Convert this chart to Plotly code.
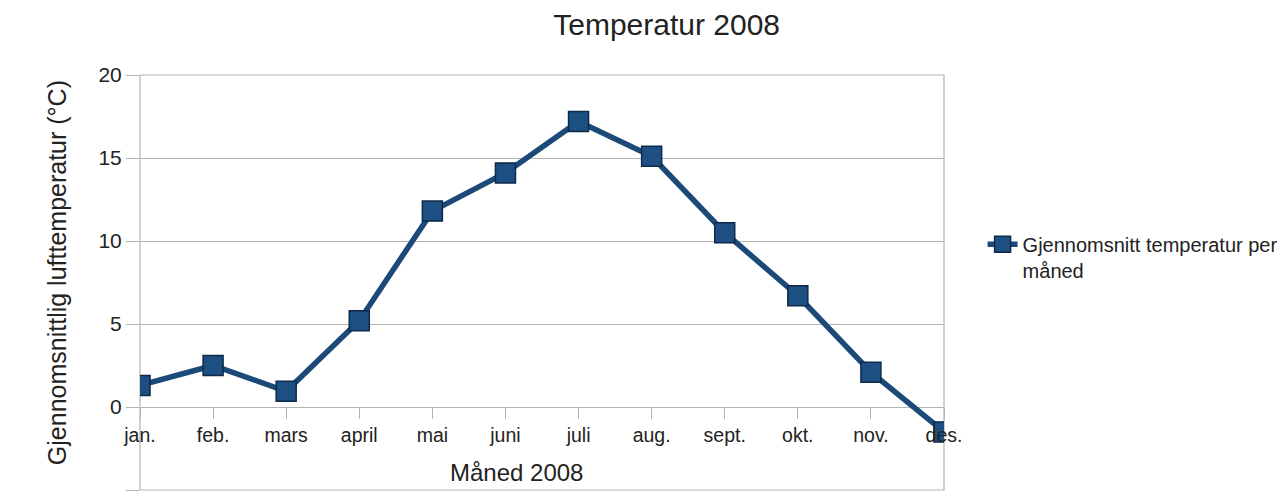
import plotly.graph_objects as go

# Month labels and mean air temperature (deg C), 2008
months = ['jan.', 'feb.', 'mars', 'april', 'mai', 'juni', 'juli',
          'aug.', 'sept.', 'okt.', 'nov.', 'des.']
temps = [1.3, 2.5, 0.95, 5.2, 11.8, 14.1, 17.2, 15.1, 10.5, 6.7, 2.1, -1.5]
y_ticks = [-5, 0, 5, 10, 15, 20]

FONT = 'Liberation Sans, Arial, sans-serif'
GRID = '#b3b3b3'
TEXT = '#222222'

fig = go.Figure()

fig.add_trace(go.Scatter(
    x=months,
    y=temps,
    mode='lines+markers',
    name='Gjennomsnitt temperatur per<br>måned',
    line=dict(color='#1b4a78', width=5.5),
    marker=dict(symbol='square', size=20, color='#1d4f82',
                line=dict(color='#0e2a4a', width=1.5)),
))

# plot frame
fig.add_shape(type='rect', xref='paper', yref='paper', x0=0, x1=1, y0=0, y1=1,
              line=dict(color=GRID, width=1.2), layer='below')

# page body has an 8px margin, so the figure is sized to end at the window edge
fig.update_layout(
    width=1278,
    height=485,
    margin=dict(l=132, r=342, t=67, b=3),
    showlegend=True,
    paper_bgcolor='white',
    plot_bgcolor='white',
    font=dict(family=FONT, color=TEXT),
    title=dict(text='Temperatur 2008', font=dict(size=30, color=TEXT),
               x=0.655, xref='paper', xanchor='center',
               y=0.965, yanchor='middle'),
    xaxis=dict(
        type='category',
        range=[0, len(months) - 1],
        anchor='free',
        position=(0 - y_ticks[0]) / (y_ticks[-1] - y_ticks[0]),
        showgrid=False,
        showline=False,
        zeroline=False,
        ticks='outside',
        ticklen=11,
        tickcolor=GRID,
        tickfont=dict(size=19.5, color=TEXT),
    ),
    yaxis=dict(
        range=[y_ticks[0], y_ticks[-1]],
        tickvals=y_ticks,
        showgrid=True,
        gridcolor=GRID,
        gridwidth=1.2,
        zeroline=False,
        showline=False,
        ticks='outside',
        ticklen=13,
        tickcolor=GRID,
        tickfont=dict(size=21, color=TEXT),
    ),
    legend=dict(
        x=1.048, y=0.561, xanchor='left', yanchor='middle',
        valign='top',
        font=dict(size=20, color=TEXT),
        itemwidth=30,
        bgcolor='rgba(0,0,0,0)',
    ),
    annotations=[
        dict(text='Måned 2008', xref='paper', yref='paper', x=0.468, y=0.041,
             xanchor='center', yanchor='middle',
             showarrow=False, font=dict(size=24, color=TEXT)),
        dict(text='Gjennomsnittlig lufttemperatur (°C)', xref='paper', yref='paper',
             x=-0.103, y=0.523, xanchor='center', yanchor='middle',
             textangle=-90, showarrow=False,
             font=dict(size=25, color=TEXT)),
    ],
)

fig.write_html("out.html")
